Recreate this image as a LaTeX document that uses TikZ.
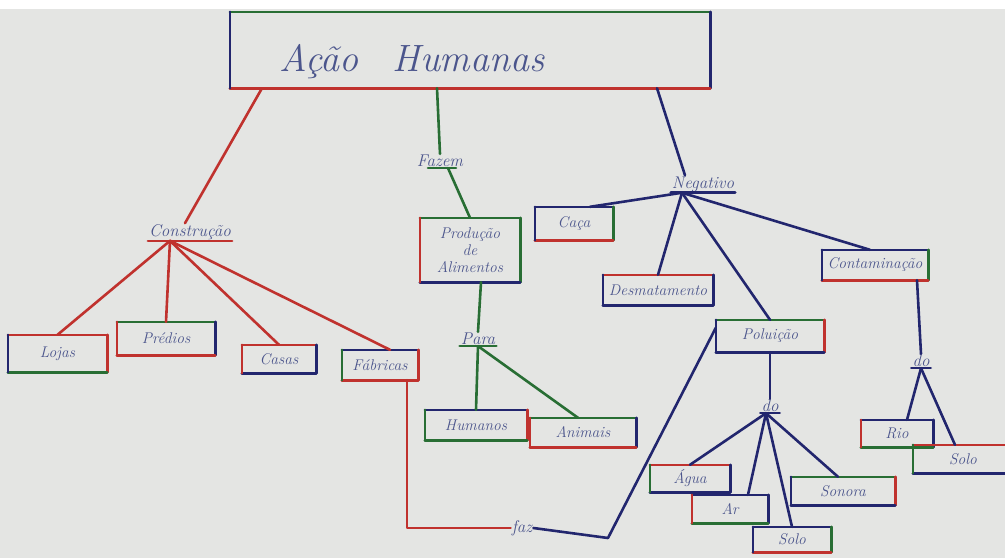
\documentclass[tikz,border=0pt]{standalone}
\usetikzlibrary{calc}
\definecolor{pr}{RGB}{192,50,46}
\definecolor{pg}{RGB}{40,110,52}
\definecolor{pb}{RGB}{34,38,110}
\definecolor{ink}{RGB}{75,85,140}
\definecolor{paper}{RGB}{228,229,227}
\tikzset{
 box/.style={rectangle, inner sep=0pt, font=\fontsize{15.5}{17}\selectfont\itshape, text=ink, align=center},
 lbl/.style={inner sep=1pt, font=\fontsize{17}{19}\selectfont\itshape, text=ink},
 pen/.style={line width=2.6pt, line cap=round, line join=round},
 rl/.style={pen, draw=pr}, gl/.style={pen, draw=pg}, bl/.style={pen, draw=pb},
}
\newcommand\boxsides[5]{%
 \draw[pen,draw=#2] (#1.north west) -- (#1.north east);
 \draw[pen,draw=#3] (#1.north east) -- (#1.south east);
 \draw[pen,draw=#4] (#1.south east) -- (#1.south west);
 \draw[pen,draw=#5] (#1.south west) -- (#1.north west);}
\begin{document}
\begin{tikzpicture}[x=1pt,y=-1pt]
\useasboundingbox (0,0) rectangle (1005,558);
\clip (0,0) rectangle (1005,558);
\fill[paper] (0,0) rectangle (1005,558);
\fill[white] (0,0) rectangle (1005,9);

% title
\node[box, minimum width=480pt, minimum height=76pt] (title) at (470,50) {};
\node[inner sep=0pt, font=\fontsize{38}{44}\selectfont\itshape, text=ink] (titletxt) at (412,62) {Ação\hspace{34pt}Humanas};
\boxsides{title}{pg}{pb}{pr}{pb}

% labels
\node[lbl] (constr) at (190,232) {Construção};
\draw[rl] (constr.south west) -- (constr.south east);
\node[lbl] (fazem) at (440,161) {Fazem};
\draw[gl] ([xshift=-12pt]fazem.south) -- ([xshift=16pt]fazem.south);
\node[lbl] (para) at (478,339) {Para};
\draw[gl] (para.south west) -- (para.south east);
\node[lbl] (neg) at (703,184) {Negativo};
\draw[bl] (neg.south west) -- (neg.south east);
\node[lbl] (do1) at (770,406) {do};
\draw[bl] (do1.south west) -- (do1.south east);
\node[lbl] (do2) at (921,361) {do};
\draw[bl] (do2.south west) -- (do2.south east);
\node[lbl] (faz) at (522,528) {faz};

% boxes
\node[box, minimum width=99pt, minimum height=37pt] (lojas) at (57.5,353.5) {Lojas};
\boxsides{lojas}{pr}{pr}{pg}{pb}
\node[box, minimum width=98pt, minimum height=33pt] (predios) at (166,338.5) {Prédios};
\boxsides{predios}{pg}{pb}{pr}{pr}
\node[box, minimum width=74pt, minimum height=28pt] (casas) at (279,359) {Casas};
\boxsides{casas}{pr}{pb}{pb}{pr}
\node[box, minimum width=76pt, minimum height=30pt] (fabricas) at (380,365) {Fábricas};
\boxsides{fabricas}{pb}{pr}{pr}{pg}
\node[box, minimum width=100pt, minimum height=64pt] (prod) at (470,250) {Produção\\de\\Alimentos};
\boxsides{prod}{pg}{pg}{pb}{pr}
\node[box, minimum width=102pt, minimum height=30pt] (humanos) at (476,425) {Humanos};
\boxsides{humanos}{pb}{pr}{pg}{pg}
\node[box, minimum width=106pt, minimum height=29pt] (animais) at (583,432.5) {Animais};
\boxsides{animais}{pg}{pb}{pr}{pr}
\node[box, minimum width=78pt, minimum height=33pt] (caca) at (574,223.5) {Caça};
\boxsides{caca}{pb}{pg}{pr}{pb}
\node[box, minimum width=110pt, minimum height=30pt] (desm) at (658,290) {Desmatamento};
\boxsides{desm}{pr}{pb}{pb}{pb}
\node[box, minimum width=106pt, minimum height=30pt] (contam) at (875,265) {Contaminação};
\boxsides{contam}{pb}{pg}{pr}{pb}
\node[box, minimum width=108pt, minimum height=32pt] (polu) at (770,336) {Poluição};
\boxsides{polu}{pg}{pr}{pb}{pb}
\node[box, minimum width=80pt, minimum height=27pt] (agua) at (690,478.5) {Água};
\boxsides{agua}{pr}{pb}{pb}{pg}
\node[box, minimum width=76pt, minimum height=28pt] (ar) at (730,509) {Ar};
\boxsides{ar}{pb}{pb}{pg}{pr}
\node[box, minimum width=78pt, minimum height=25pt] (solo1) at (792,539.5) {Solo};
\boxsides{solo1}{pb}{pg}{pr}{pb}
\node[box, minimum width=104pt, minimum height=28pt] (sonora) at (843,491) {Sonora};
\boxsides{sonora}{pg}{pr}{pb}{pb}
\node[box, minimum width=72pt, minimum height=27pt] (rio) at (897,433.5) {Rio};
\boxsides{rio}{pb}{pb}{pg}{pr}
\node[box, minimum width=100pt, minimum height=28pt] (solo2) at (963,459) {Solo};
\boxsides{solo2}{pr}{pb}{pb}{pg}

% connectors from title
\draw[rl] ([xshift=-208pt]title.south) -- ([xshift=-5pt]constr.north);
\draw[gl] ([xshift=-33pt]title.south) -- (fazem.north);
\draw[bl] ([xshift=187pt]title.south) -- ([xshift=-18pt]neg.north);

% Construcao
\coordinate (ch) at ([xshift=-20pt]constr.south);
\draw[rl] (ch) -- (lojas.north);
\draw[rl] (ch) -- (predios.north);
\draw[rl] (ch) -- (casas.north);
\draw[rl] (ch) -- ([xshift=10pt]fabricas.north);

% Fazem
\draw[gl] ([xshift=8pt]fazem.south) -- (prod.north);
\draw[gl] ([xshift=11pt]prod.south) -- (para.north);
\coordinate (ph) at (para.south);
\draw[gl] (ph) -- (humanos.north);
\draw[gl] (ph) -- ([xshift=-5pt]animais.north);

% faz
\draw[rl] ([xshift=27pt]fabricas.south) |- (faz.west);
\coordinate (bend) at (608,538);
\draw[bl] (faz.east) -- (bend) -- ([yshift=-8pt]polu.north west);

% Negativo
\coordinate (nh) at ([xshift=-21pt]neg.south);
\draw[bl] (nh) -- ([xshift=16pt]caca.north);
\draw[bl] (nh) -- (desm.north);
\draw[bl] (nh) -- (polu.north);
\draw[bl] (nh) -- ([xshift=-5pt]contam.north);

% Poluicao
\draw[bl] (polu.south) -- (do1.north);
\coordinate (dh) at ([xshift=-4pt]do1.south);
\draw[bl] (dh) -- (agua.north);
\draw[bl] (dh) -- ([xshift=18pt]ar.north);
\draw[bl] (dh) -- (solo1.north);
\draw[bl] (dh) -- ([xshift=-5pt]sonora.north);

% Contaminacao
\draw[bl] ([xshift=42pt]contam.south) -- (do2.north);
\coordinate (ch2) at (do2.south);
\draw[bl] (ch2) -- ([xshift=10pt]rio.north);
\draw[bl] (ch2) -- ([xshift=-8pt]solo2.north);
\end{tikzpicture}
\end{document}
